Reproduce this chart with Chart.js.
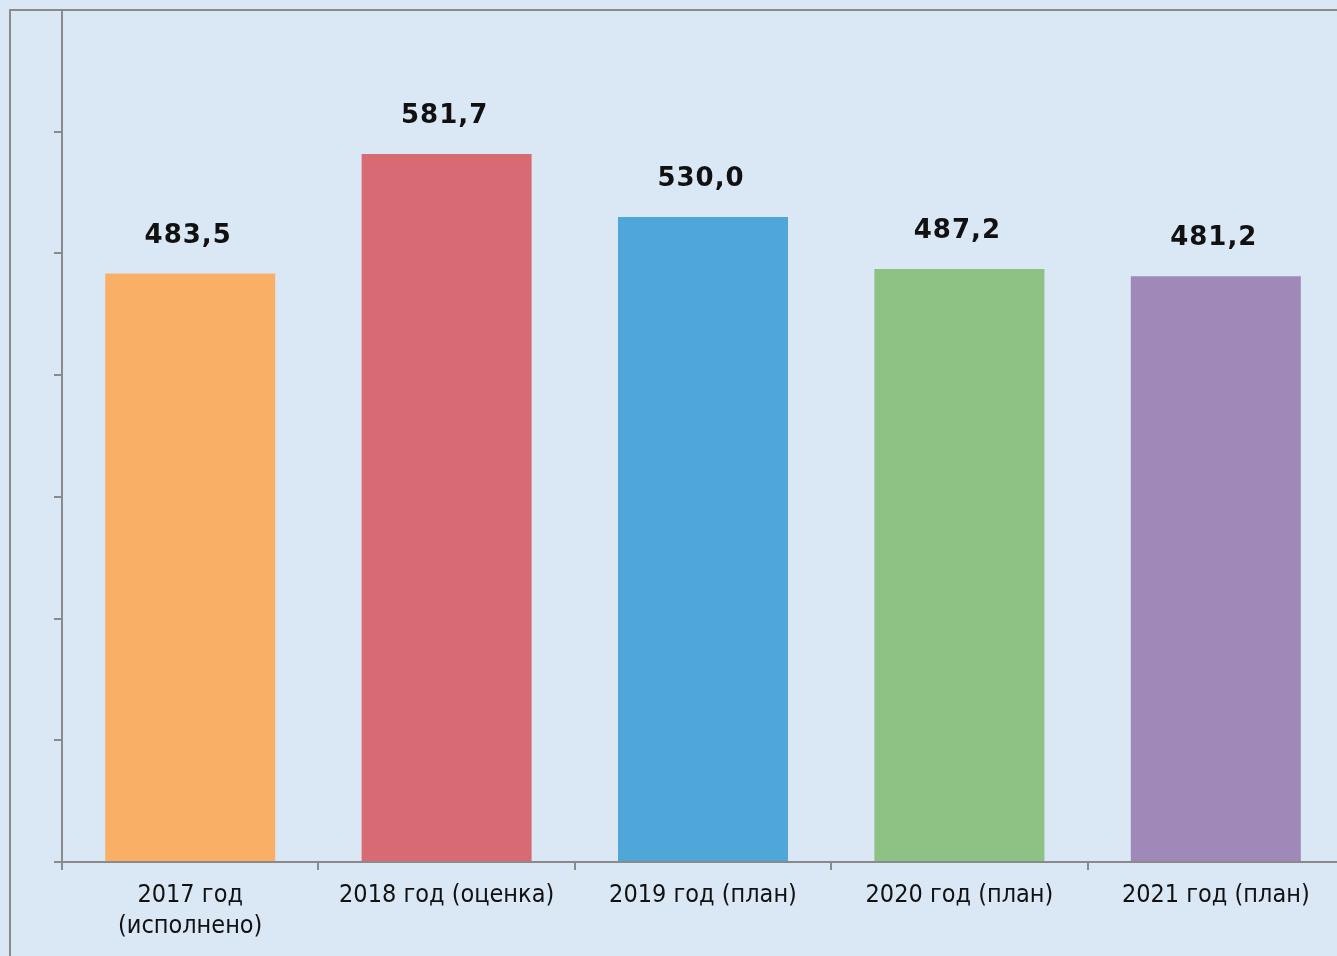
<!DOCTYPE html>
<html><head><meta charset="utf-8">
<script src="https://cdn.jsdelivr.net/npm/chart.js@4.4.1/dist/chart.umd.min.js"></script>
<style>
html,body{margin:0;padding:0;overflow:hidden;background:#dae8f6;}
#wrap{width:1360px;height:956px;}
</style></head><body>
<div id="wrap"><canvas id="c" width="1360" height="956"></canvas></div>
<script>
const categories = [["2017 год","(исполнено)"],"2018 год (оценка)","2019 год (план)","2020 год (план)","2021 год (план)"];
const values = [483.5, 581.7, 530.0, 487.2, 481.2];
const barColors = ["#F9B066","#D86A74","#4EA6D9","#8EC184","#A088B8"];
const yMin = 0, yMax = 700, yStep = 100;

const bgPlugin = {
  id:'bg',
  beforeDraw(chart){
    const ctx = chart.ctx;
    ctx.save();
    ctx.fillStyle = '#dae8f6';
    ctx.fillRect(0,0,chart.width,chart.height);
    ctx.strokeStyle = '#8a8a8a';
    ctx.lineWidth = 2;
    ctx.beginPath();
    ctx.moveTo(10, chart.height+5);
    ctx.lineTo(10, 10);
    ctx.lineTo(chart.width+5, 10);
    ctx.stroke();
    ctx.restore();
  }
};
const labelPlugin = {
  id:'vals',
  afterDatasetsDraw(chart){
    const ctx = chart.ctx;
    const meta = chart.getDatasetMeta(0);
    ctx.save();
    ctx.font = 'bold 26px "DejaVu Sans"';
    ctx.fillStyle = '#111';
    ctx.textAlign = 'center';
    ctx.textBaseline = 'alphabetic';
    try{ ctx.letterSpacing = '1px'; }catch(e){}
    meta.data.forEach((el,i)=>{
      const txt = values[i].toFixed(1).replace('.', ',');
      ctx.fillText(txt, el.x - 2, el.y - 31);
    });
    ctx.restore();
  }
};

new Chart(document.getElementById('c'), {
  type:'bar',
  data:{ labels: categories, datasets:[{ data: values, backgroundColor: barColors, borderWidth:0, barPercentage:0.663, categoryPercentage:1.0 }]},
  options:{
    responsive:false, animation:false,
    layout:{ padding:{ left:42, top:10, right:16, bottom:0 } },
    plugins:{ legend:{display:false}, tooltip:{enabled:false} },
    scales:{
      x:{
        grid:{ display:true, offset:true, drawOnChartArea:false, drawTicks:true, tickLength:8, color:'#8a8a8a', lineWidth:2 },
        border:{ color:'#8a8a8a', width:2 },
        ticks:{ color:'#111', font:{ family:'"DejaVu Sans Condensed","DejaVu Sans"', size:25, lineHeight:1.24 }, padding:10, maxRotation:0, autoSkip:false },
        afterFit(s){ s.height = 94; }
      },
      y:{
        min:yMin, max:yMax,
        ticks:{ display:false, stepSize:yStep },
        grid:{ display:true, drawOnChartArea:false, drawTicks:true, tickLength:8, color:'#8a8a8a', lineWidth:2 },
        border:{ color:'#8a8a8a', width:2 },
        afterFit(s){ s.width = 20; }
      }
    }
  },
  plugins:[bgPlugin, labelPlugin]
});
</script>
</body></html>
